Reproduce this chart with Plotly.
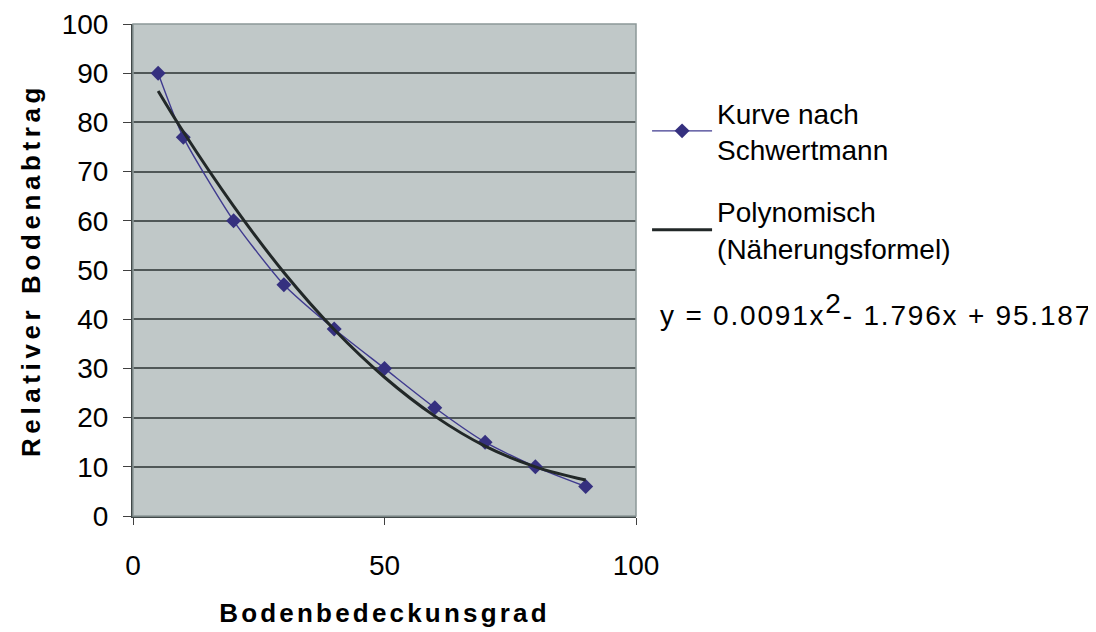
import plotly.graph_objects as go

# Data
bedeckung = [5, 10, 20, 30, 40, 50, 60, 70, 80, 90]
abtrag = [90, 77, 60, 47, 38, 30, 22, 15, 10, 6]
trend_x = [5, 10, 20, 30, 40, 50, 60, 70, 80, 90]
trend_y = [86.4, 78.1, 63.0, 49.5, 37.9, 28.2, 20.3, 14.2, 10.0, 7.3]
x_ticks = [0, 50, 100]
y_ticks = [0, 10, 20, 30, 40, 50, 60, 70, 80, 90, 100]
equation = ('<span style="letter-spacing:1.8px">y = 0.0091x<sup><span style="font-size:28px">2</span></sup>'
            '- 1.796x + 95.187</span>')

FONT = "Liberation Sans, Arial, sans-serif"
SPACED = '<span style="letter-spacing:{}px"><b>{}</b></span>'

fig = go.Figure()
fig.add_trace(go.Scatter(
    x=bedeckung, y=abtrag, mode="lines+markers",
    name="Kurve nach<br>Schwertmann", legendgroup="a",
    line=dict(color="#3F3A8F", width=1.4, shape="spline", smoothing=0.6),
    marker=dict(symbol="diamond", size=11.5, color="#35307F"),
))
fig.add_trace(go.Scatter(
    x=trend_x, y=trend_y, mode="lines",
    name="Polynomisch<br>(Näherungsformel)", legendgroup="b",
    line=dict(color="#222828", width=3, shape="spline"),
))

fig.update_layout(
    width=1096, height=632,
    margin=dict(l=125, r=468, t=16, b=124, autoexpand=False),
    paper_bgcolor="white",
    plot_bgcolor="#C0C8C8",
    font=dict(family=FONT, color="black", size=28),
    showlegend=True,
    legend=dict(
        x=1.022, y=0.87, xanchor="left", yanchor="top",
        font=dict(family=FONT, size=28, color="black"),
        traceorder="grouped", tracegroupgap=23, itemwidth=60,
        valign="middle", bgcolor="rgba(0,0,0,0)",
    ),
    xaxis=dict(
        range=[0, 100], tickvals=x_ticks, ticks="outside", ticklen=7,
        tickcolor="#404040", showline=True, linecolor="#404848", linewidth=2,
        showgrid=False, zeroline=False, ticklabelstandoff=16, automargin=False,
        tickfont=dict(size=28),
        title=dict(text=SPACED.format(3.2, "Bodenbedeckunsgrad"), font=dict(size=26), standoff=24),
    ),
    yaxis=dict(
        range=[0, 100], tickvals=y_ticks, ticks="outside", ticklen=8,
        tickcolor="#404040", showline=True, linecolor="#404848", linewidth=2,
        showgrid=True, gridcolor="#505858", gridwidth=1.5, zeroline=False,
        ticklabelstandoff=9, automargin=False,
        tickfont=dict(size=28),
        title=dict(text=SPACED.format(4.6, "Relativer Bodenabtrag"), font=dict(size=26), standoff=14),
    ),
    shapes=[dict(type="rect", xref="paper", yref="paper", x0=0, y0=0, x1=1, y1=1,
                 line=dict(color="#8C9898", width=1.5), fillcolor="rgba(0,0,0,0)")],
    annotations=[dict(
        text=equation, xref="paper", yref="paper", x=1.044, y=0.419,
        xanchor="left", yanchor="middle", showarrow=False,
        font=dict(family=FONT, size=28, color="black"),
    )],
)

fig.write_html("out.html")
